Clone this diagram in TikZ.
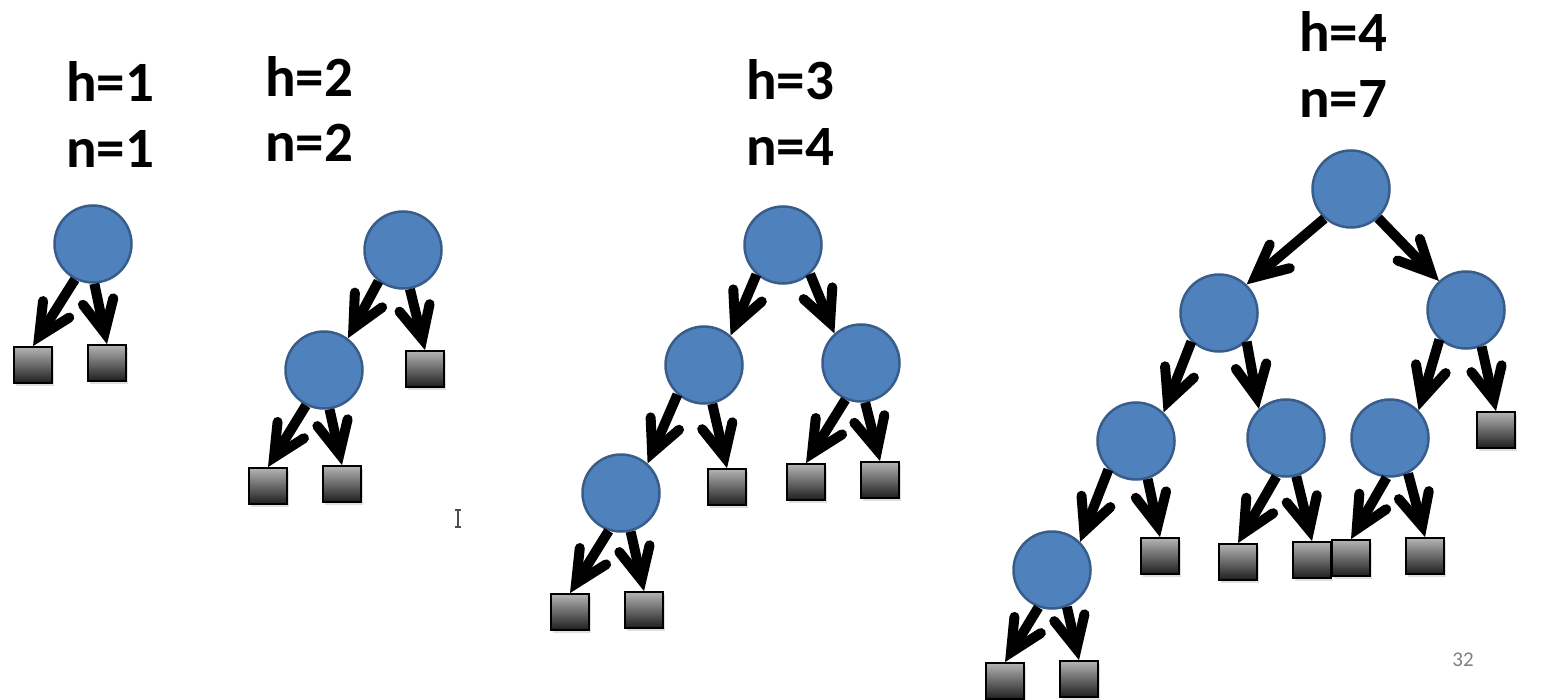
\documentclass[tikz,border=0pt]{standalone}
\usepackage{fontspec}
\setmainfont{Carlito}
\usetikzlibrary{arrows.meta,shadows}
\definecolor{nodeblue}{HTML}{4F81BD}
\definecolor{nodeedge}{HTML}{385D8A}
\definecolor{leaftop}{HTML}{B4B4B4}
\definecolor{leafmid}{HTML}{8A8A8A}
\definecolor{leafbot}{HTML}{1E1E1E}
\definecolor{pagegray}{HTML}{808080}
\begin{document}
\begin{tikzpicture}[x=1pt,y=-1pt,
  inode/.style={circle, fill=nodeblue, draw=nodeedge, line width=2.5pt, minimum size=77pt, inner sep=0pt},
  leaf/.style={rectangle, draw=black, line width=1.8pt, minimum width=38pt, minimum height=36pt, inner sep=0pt,
    top color=leaftop, middle color=leafmid, bottom color=leafbot,
    drop shadow={shadow xshift=1.5pt, shadow yshift=-2.5pt, opacity=0.25}},
  arr/.style={line width=10pt, -{Straight Barb[length=32pt,width=31pt,line cap=round]}},
  lbl/.style={font=\fontsize{57}{60}\selectfont\bfseries, anchor=base}]
\useasboundingbox (0,0) rectangle (1552,700);

% labels
\node[lbl] (t1h) at (110,102) {h=1};
\node[lbl] (t1n) at (110,168) {n=1};
\node[lbl] (t2h) at (309,97) {h=2};
\node[lbl] (t2n) at (309,162) {n=2};
\node[lbl] (t3h) at (790,100) {h=3};
\node[lbl] (t3n) at (790,166) {n=4};
\node[lbl] (t4h) at (1343,52) {h=4};
\node[lbl] (t4n) at (1343,118) {n=7};

% tree 1
\node[inode] (a1) at (93,244) {};
\node[leaf] (a1l) at (33,365) {};
\node[leaf] (a1r) at (107,363) {};
\draw[arr] (a1.243) -- (a1l.north);
\draw[arr] (a1.272) -- (a1r.north);

% tree 2
\node[inode] (b1) at (403,250) {};
\node[inode] (b2) at (324,370) {};
\node[leaf] (b1r) at (425,369) {};
\node[leaf] (b2l) at (268,486) {};
\node[leaf] (b2r) at (342,484) {};
\draw[arr] (b1.232) -- (b2.53);
\draw[arr] (b1.280) -- (b1r.north);
\draw[arr] (b2.243) -- (b2l.north);
\draw[arr] (b2.278) -- (b2r.north);

% tree 3
\node[inode] (c1) at (783,245) {};
\node[inode] (c2) at (704,365) {};
\node[inode] (c3) at (861,363) {};
\node[inode] (c4) at (621,493) {};
\node[leaf] (c2r) at (727,487) {};
\node[leaf] (c3l) at (806,482) {};
\node[leaf] (c3r) at (880,480) {};
\node[leaf] (c4l) at (570,612) {};
\node[leaf] (c4r) at (644,610) {};
\draw[arr] (c1.228) -- (c2.48);
\draw[arr] (c1.313) -- (c3.132);
\draw[arr] (c2.228) -- (c4.48);
\draw[arr] (c2.282) -- (c2r.north);
\draw[arr] (c3.247) -- (c3l.north);
\draw[arr] (c3.276) -- (c3r.north);
\draw[arr] (c4.252) -- (c4l.north);
\draw[arr] (c4.284) -- (c4r.north);

% tree 4
\node[inode] (d1) at (1351,189) {};
\node[inode] (d2) at (1219,313) {};
\node[inode] (d3) at (1466,310) {};
\node[inode] (d4) at (1136,441) {};
\node[inode] (d5) at (1286,438) {};
\node[inode] (d6) at (1390,438) {};
\node[inode] (d7) at (1052,570) {};
\node[leaf] (d3r) at (1496,430) {};
\node[leaf] (d4r) at (1160,556) {};
\node[leaf] (d5l) at (1238,562) {};
\node[leaf] (d5r) at (1312,560) {};
\node[leaf] (d6l) at (1351,558) {};
\node[leaf] (d6r) at (1425,556) {};
\node[leaf] (d7l) at (1005,681) {};
\node[leaf] (d7r) at (1079,679) {};
\draw[arr] (d1.228) -- (d2.46);
\draw[arr] (d1.313) -- (d3.133);
\draw[arr] (d2.226) -- (d4.46);
\draw[arr] (d2.314) -- (d5.133);
\draw[arr] (d3.228) -- (d6.44);
\draw[arr] (d3.293) -- (d3r.north);
\draw[arr] (d4.226) -- (d7.45);
\draw[arr] (d4.287) -- (d4r.north);
\draw[arr] (d5.256) -- (d5l.north);
\draw[arr] (d5.285) -- (d5r.north);
\draw[arr] (d6.265) -- (d6l.north);
\draw[arr] (d6.297) -- (d6r.north);
\draw[arr] (d7.250) -- (d7l.north);
\draw[arr] (d7.292) -- (d7r.north);

% page number
\node[font=\fontsize{21}{24}\selectfont, text=pagegray] (pg) at (1463,660) {32};

% text cursor
\draw[line width=1.3pt, color=black!70] (458,510) -- (458,527)
  (455,510) -- (461,510) (455,527) -- (461,527);
\end{tikzpicture}
\end{document}
